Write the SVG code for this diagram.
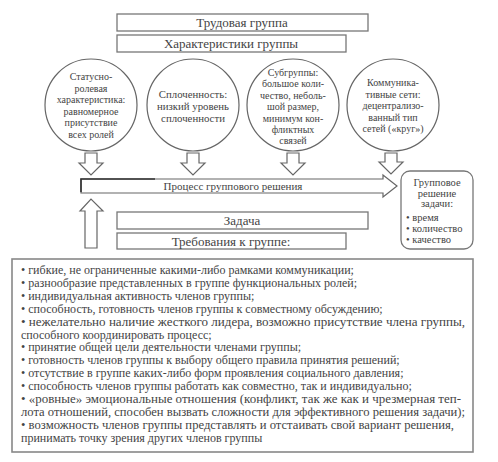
<svg xmlns="http://www.w3.org/2000/svg" width="498" height="462" viewBox="0 0 498 462" font-family="'Liberation Serif', 'DejaVu Serif', serif">
<style>
.box{fill:#fff;stroke:#777;stroke-width:1.3}
.circ{fill:#fff;stroke:#666;stroke-width:1.2}
.arr{fill:#fff;stroke:#666;stroke-width:1.2;stroke-linejoin:miter}
text{font-family:'Liberation Serif','DejaVu Serif',serif;fill:#444}
.h{font-size:13px;text-anchor:middle}
.c{font-size:10px;text-anchor:middle}
.c2{font-size:10.8px;text-anchor:middle}
.s{font-size:11px}
.l{font-size:12px}
</style>
<rect width="498" height="462" fill="#fff"/>
<g id="trud"><rect class="box" x="117" y="14" width="251" height="17"/><text class="h" x="242" y="27">Трудовая группа</text></g>
<g id="harakt"><rect class="box" x="117" y="35" width="229" height="17"/><text class="h" x="231" y="48">Характеристики группы</text></g>
<g id="c1"><circle class="circ" cx="91" cy="105" r="46"/>
<text class="c"><tspan x="91" y="80">Статусно-</tspan><tspan x="91" y="91.6">ролевая</tspan><tspan x="91" y="103.2">характеристика:</tspan><tspan x="91" y="114.8">равномерное</tspan><tspan x="91" y="126.4">присутствие</tspan><tspan x="91" y="138">всех ролей</tspan></text></g>
<g id="c2"><circle class="circ" cx="193" cy="105" r="46"/>
<text class="c2"><tspan x="193" y="98">Сплоченность:</tspan><tspan x="193" y="110">низкий уровень</tspan><tspan x="193" y="121.5">сплоченности</tspan></text></g>
<g id="c3"><circle class="circ" cx="293" cy="105" r="46"/>
<text class="c"><tspan x="293" y="76">Субгруппы:</tspan><tspan x="293" y="87.4">большое коли-</tspan><tspan x="293" y="98.8">чество, неболь-</tspan><tspan x="293" y="110.2">шой размер,</tspan><tspan x="293" y="121.6">минимум кон-</tspan><tspan x="293" y="133">фликтных</tspan><tspan x="293" y="144.4">связей</tspan></text></g>
<g id="c4"><circle class="circ" cx="393" cy="105" r="46"/>
<text class="c"><tspan x="393" y="86">Коммуника-</tspan><tspan x="393" y="97.5">тивные сети:</tspan><tspan x="393" y="109">децентрализо-</tspan><tspan x="393" y="120.5">ванный тип</tspan><tspan x="393" y="132">сетей («круг»)</tspan></text></g>
<g id="connectors">
<path class="arr" d="M85,153 H97 V163 H103 L91,175 L79,163 H85 Z"/>
<path class="arr" d="M187,153 H199 V163 H205 L193,175 L181,163 H187 Z"/>
<path class="arr" d="M287,153 H299 V163 H305 L293,175 L281,163 H287 Z"/>
<path class="arr" d="M385,153 H397 V162 H403 L391,174 L379,162 H385 Z"/>
<path class="arr" d="M85,248 V211 H80 L91,199 L103,211 H97 V248 Z"/>
</g>
<g id="process"><path class="arr" d="M81,179 H383 V175 L397,186 L383,197 V193 H81 Z"/><path d="M81,192 V179 H155" fill="none" stroke="#333" stroke-width="1.6"/><text class="s" x="233" y="190" text-anchor="middle">Процесс группового решения</text></g>
<g id="result"><rect class="box" x="401" y="171" width="72" height="78" rx="9"/>
<text font-size="10.5px" text-anchor="middle"><tspan x="437" y="186">Групповое</tspan><tspan x="437" y="196.5">решение</tspan><tspan x="437" y="207">задачи:</tspan></text>
<text font-size="10.5px"><tspan x="406" y="220.5">• время</tspan><tspan x="406" y="231.5">• количество</tspan><tspan x="406" y="242.5">• качество</tspan></text></g>
<g id="zadacha"><rect class="box" x="117" y="212" width="251" height="17"/><text class="h" x="242" y="225">Задача</text></g>
<g id="treb"><rect class="box" x="117" y="233" width="229" height="16"/><text class="h" x="231" y="246">Требования к группе:</text></g>
<g id="list"><rect x="12" y="259" width="461" height="193" fill="#fff" stroke="#888" stroke-width="1.6"/>
<text class="l">
<tspan x="21" y="274">• гибкие, не ограниченные какими-либо рамками коммуникации;</tspan>
<tspan x="21" y="286.9">• разнообразие представленных в группе функциональных ролей;</tspan>
<tspan x="21" y="299.8">• индивидуальная активность членов группы;</tspan>
<tspan x="21" y="312.7">• способность, готовность членов группы к совместному обсуждению;</tspan>
<tspan x="21" y="325.6" textLength="444" lengthAdjust="spacingAndGlyphs">• нежелательно наличие жесткого лидера, возможно присутствие члена группы,</tspan>
<tspan x="21" y="338.5">способного  координировать процесс;</tspan>
<tspan x="21" y="351.4">• принятие общей цели деятельности членами группы;</tspan>
<tspan x="21" y="364.3">• готовность членов группы к выбору общего правила принятия решений;</tspan>
<tspan x="21" y="377.2">• отсутствие в группе каких-либо форм проявления социального давления;</tspan>
<tspan x="21" y="390.1">• способность членов группы работать как совместно, так и индивидуально;</tspan>
<tspan x="21" y="403" textLength="440" lengthAdjust="spacingAndGlyphs">• «ровные» эмоциональные отношения (конфликт, так же как и чрезмерная теп-</tspan>
<tspan x="21" y="415.9" textLength="444" lengthAdjust="spacingAndGlyphs">лота отношений, способен вызвать сложности для эффективного решения задачи);</tspan>
<tspan x="21" y="428.8" textLength="433" lengthAdjust="spacingAndGlyphs">• возможность членов группы представлять и отстаивать свой вариант решения,</tspan>
<tspan x="21" y="441.7">принимать точку зрения других членов группы</tspan>
</text></g>
</svg>
